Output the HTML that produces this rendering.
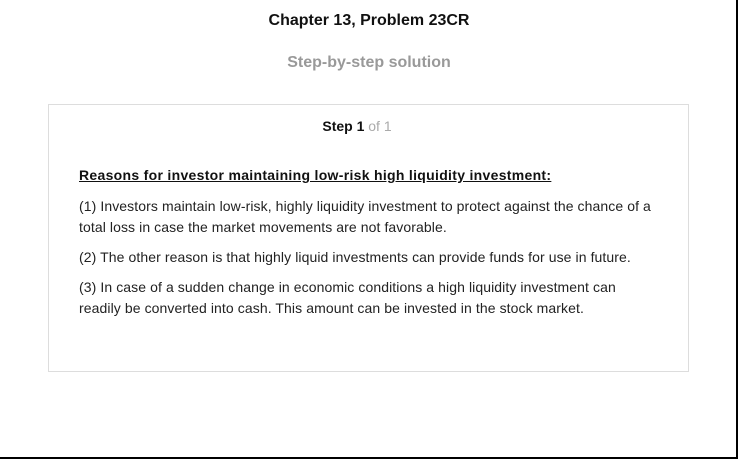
<!DOCTYPE html>
<html><head><meta charset="utf-8">
<style>
html,body{margin:0;padding:0;background:#fff;}
body{width:738px;height:459px;position:relative;overflow:hidden;font-family:"Liberation Sans",Arial,sans-serif;color:#222;}
.frame{position:absolute;left:0;top:0;width:736px;height:457px;border-right:2px solid #000;border-bottom:2px solid #000;}
.t{position:absolute;white-space:nowrap;}
.box{position:absolute;left:48px;top:104px;width:639px;height:266px;border:1px solid #ddd;}
.body{letter-spacing:0.09px;}
</style></head><body>
<div class="frame"></div>
<div class="t" style="left:0;width:738px;text-align:center;top:12px;font-size:16px;font-weight:bold;color:#111;">Chapter 13, Problem 23CR</div>
<div class="t" style="left:0;width:738px;text-align:center;top:54px;font-size:16px;font-weight:bold;color:#999;">Step-by-step solution</div>
<div class="box"></div>
<div class="t" style="left:0;width:714px;text-align:center;top:118px;font-size:14px;"><b style="color:#111">Step 1</b> <span style="color:#aaa">of 1</span></div>
<div class="t" style="left:79px;top:167px;font-size:14px;font-weight:bold;text-decoration:underline;color:#111;letter-spacing:0.3px;">Reasons for investor maintaining low-risk high liquidity investment:</div>
<div class="t body" style="left:79px;top:196px;font-size:14px;line-height:21px;">(1) Investors maintain low-risk, highly liquidity investment to protect against the chance of a<br>total loss in case the market movements are not favorable.</div>
<div class="t body" style="left:79px;top:247px;font-size:14px;line-height:21px;">(2) The other reason is that highly liquid investments can provide funds for use in future.</div>
<div class="t body" style="left:79px;top:277px;font-size:14px;line-height:21px;">(3) In case of a sudden change in economic conditions a high liquidity investment can<br>readily be converted into cash. This amount can be invested in the stock market.</div>
</body></html>
